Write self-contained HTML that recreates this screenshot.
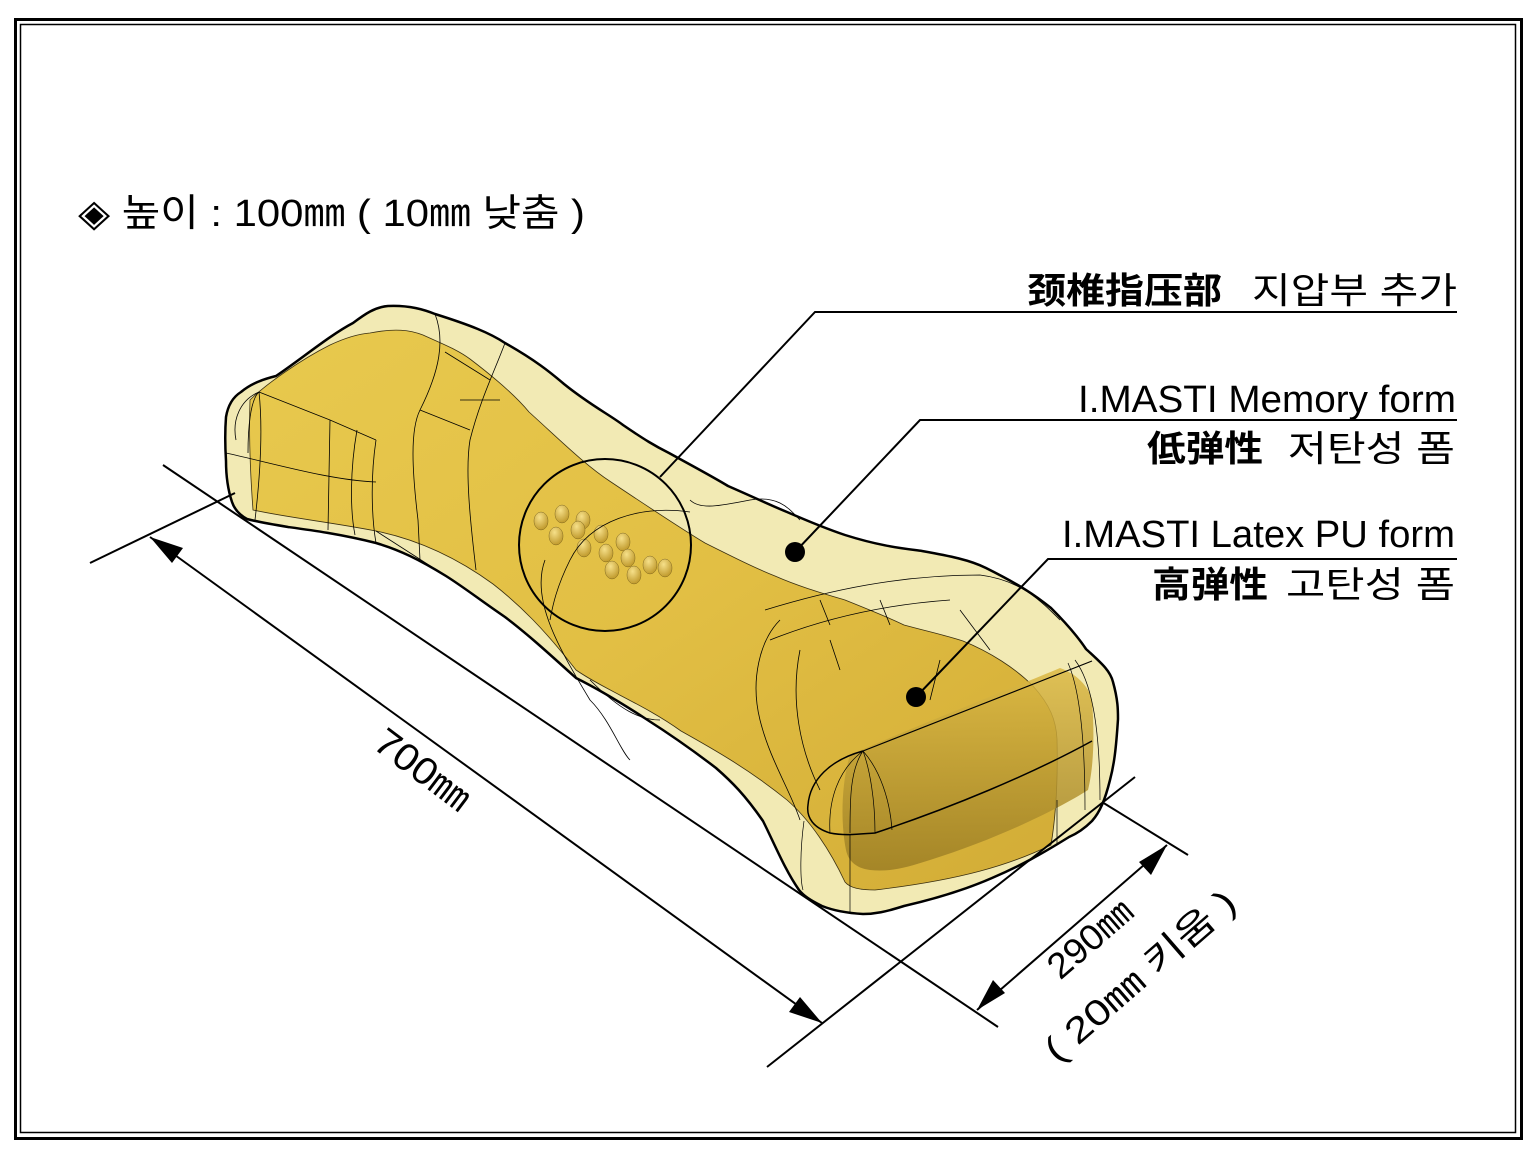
<!DOCTYPE html>
<html><head><meta charset="utf-8"><style>
html,body{margin:0;padding:0;background:#fff}
svg{display:block}
text{font-family:"Liberation Sans","Noto Sans CJK KR",sans-serif;fill:#000}
</style></head><body>
<svg width="1538" height="1155" viewBox="0 0 1538 1155" xmlns="http://www.w3.org/2000/svg">
<defs>
<linearGradient id="gold" x1="0" y1="0" x2="1" y2="1">
<stop offset="0" stop-color="#e8c94e"/><stop offset="0.5" stop-color="#e2bf44"/><stop offset="1" stop-color="#d2ac36"/>
</linearGradient>
<linearGradient id="face" x1="0" y1="0" x2="0" y2="1">
<stop offset="0" stop-color="#dcb944"/><stop offset="1" stop-color="#9c7e24"/>
</linearGradient>
<radialGradient id="nub" cx="0.4" cy="0.3" r="0.7">
<stop offset="0" stop-color="#f6e08a"/><stop offset="1" stop-color="#c09a2c"/>
</radialGradient>
</defs>
<rect x="15.5" y="19.5" width="1506" height="1119" fill="none" stroke="#000" stroke-width="3"/>
<rect x="20.5" y="24.5" width="1495" height="1108" fill="none" stroke="#000" stroke-width="1.5"/>

<text x="78" y="226" font-size="38" textLength="507" lengthAdjust="spacingAndGlyphs">◈ 높이 : 100㎜ ( 10㎜ 낮춤 )</text>

<path d="M388,306 C410,305 425,310 435,314 C470,325 490,333 505,343 C535,360 550,372 564,384 C590,405 610,415 623,425 C645,440 655,446 669,453 C700,470 715,478 728,486 C760,500 770,505 787,512 C810,522 830,530 845,535 C880,546 900,548 922,551 C950,556 970,560 986,568 C1020,585 1035,595 1051,608 C1068,625 1078,637 1086,649 C1100,662 1110,670 1113,682 C1118,700 1118,710 1118,719 C1116,750 1114,765 1110,780 C1105,800 1100,812 1092,821 C1083,830 1076,834 1069,837 C1040,855 1020,866 992,878 C960,892 930,900 904,906 C885,912 875,914 863,914 C845,913 832,910 822,906 C810,900 804,896 799,890 C785,870 775,845 763,821 C745,795 732,782 716,768 C690,748 668,733 646,719 C620,702 600,690 576,678 C545,650 525,632 505,617 C480,600 465,588 446,576 C420,560 400,550 376,543 C340,534 310,530 288,527 C270,524 258,522 247,519 C238,514 234,508 232,502 C228,490 226,475 226,461 C225,445 225,430 226,417 C228,405 233,397 241,392 C252,383 264,379 276,376 C300,360 330,335 353,323 C365,314 375,307 388,306 Z" fill="#f2eab4" stroke="#000" stroke-width="2.5"/>

<path d="M370,333 C395,328 410,330 423,335 C445,345 458,350 470,359 C495,378 515,395 529,412 C560,440 585,465 611,482 C650,508 680,528 705,543 C735,558 755,568 775,576 C800,587 825,594 845,600 C870,610 890,618 904,625 C930,632 948,636 963,641 C990,652 1015,668 1033,686 C1050,705 1056,720 1057,739 C1058,780 1056,815 1051,845 C1010,865 960,880 875,890 C860,890 850,888 845,882 C830,850 810,820 787,800 C750,770 715,750 681,731 C645,705 605,690 576,670 C545,630 520,605 493,584 C460,560 420,540 376,531 C330,522 290,518 253,510 C250,470 249,430 250,400 C265,385 300,360 330,345 C345,338 357,334 370,333 Z" fill="url(#gold)" stroke="#3a2f10" stroke-width="0.8"/>

<path d="M850,755 C930,720 1020,685 1060,668 C1080,675 1090,690 1092,700 C1095,740 1093,770 1088,790 C1060,808 1000,838 930,860 C905,868 890,872 870,870 C855,868 848,860 846,850 C840,820 842,780 850,755 Z" fill="url(#face)" opacity="0.85"/>
<path d="M863,751 C830,760 810,780 808,805 C806,818 814,828 830,833 C845,836 860,834 875,833 C950,808 1030,775 1092,741" fill="none" stroke="#000" stroke-width="1.5"/>
<path d="M863,751 L1092,661" fill="none" stroke="#000" stroke-width="1.2"/>
<path d="M863,751 C850,770 850,800 850,833 M863,751 C870,770 875,800 875,833 M863,751 C838,770 828,800 830,833 M863,751 C880,770 890,800 892,830" fill="none" stroke="#000" stroke-width="0.7"/>
<path d="M1075,660 C1090,680 1100,720 1100,800 M1068,663 C1080,690 1085,740 1085,810 M804,821 C800,850 800,880 803,890 M850,834 L850,912 M1057,800 L1057,845" fill="none" stroke="#000" stroke-width="0.7"/>

<path d="M259,392 C250,400 248,430 248,453 M259,392 L330,420 L376,440 M226,453 C280,465 330,480 376,482 M259,392 C240,400 232,420 236,440 M259,392 C262,420 262,460 255,520 M330,420 L328,530 M357,430 C350,470 350,510 355,535 M376,440 C370,480 372,520 376,543" fill="none" stroke="#000" stroke-width="0.8"/>
<path d="M435,314 C445,340 440,370 420,410 C410,430 412,470 418,520 L420,560 M445,352 L490,380 M420,410 L470,430 M460,400 L500,400 M505,343 C495,370 480,400 470,440 C465,470 470,520 476,570 M376,531 L446,576" fill="none" stroke="#000" stroke-width="0.8"/>
<path d="M690,500 C700,510 720,506 750,500 C780,495 790,510 800,520 M545,560 C530,600 560,650 590,700 C610,720 620,750 630,760 M590,680 C620,710 640,720 660,720 M765,610 C830,590 900,575 980,575 C1020,580 1040,600 1060,620 M770,640 C820,620 880,605 950,600 M780,620 C760,640 750,680 760,720 C770,760 790,790 800,820 M800,650 C790,700 800,750 820,790 M820,600 L830,625 M830,640 L840,670 M880,600 L890,625 M960,610 L990,650 M940,660 L930,700" fill="none" stroke="#000" stroke-width="0.8"/>

<g stroke="#6b5518" stroke-width="0.4" fill="url(#nub)">
<ellipse cx="541" cy="521" rx="7" ry="9"/><ellipse cx="562" cy="514" rx="7" ry="9"/><ellipse cx="583" cy="520" rx="7" ry="9"/>
<ellipse cx="556" cy="536" rx="7" ry="9"/><ellipse cx="578" cy="530" rx="7" ry="9"/><ellipse cx="601" cy="534" rx="7" ry="9"/><ellipse cx="623" cy="542" rx="7" ry="9"/>
<ellipse cx="584" cy="548" rx="7" ry="9"/><ellipse cx="606" cy="553" rx="7" ry="9"/><ellipse cx="628" cy="558" rx="7" ry="9"/><ellipse cx="650" cy="565" rx="7" ry="9"/>
<ellipse cx="612" cy="570" rx="7" ry="9"/><ellipse cx="634" cy="575" rx="7" ry="9"/><ellipse cx="665" cy="568" rx="7" ry="9"/>
</g>
<circle cx="605" cy="545" r="86" fill="none" stroke="#000" stroke-width="2"/>
<path d="M690,512 C640,505 590,520 570,560 C555,590 552,610 550,620" fill="none" stroke="#000" stroke-width="0.8"/>

<g stroke="#000" fill="none">
<path d="M1457,312 L815,312 L660,477" stroke-width="2"/>
<path d="M1457,420 L920,420 L795,552" stroke-width="2"/>
<path d="M1457,559 L1048,559 L916,697" stroke-width="2"/>
</g>
<circle cx="795" cy="552" r="10" fill="#000"/>
<circle cx="916" cy="697" r="10" fill="#000"/>

<text x="1027" y="303" font-size="36" font-weight="bold" textLength="195" lengthAdjust="spacingAndGlyphs">颈椎指压部</text>
<text x="1252" y="303" font-size="36" textLength="205" lengthAdjust="spacingAndGlyphs">지압부 추가</text>
<text x="1078" y="412" font-size="38" textLength="378" lengthAdjust="spacingAndGlyphs">I.MASTI Memory form</text>
<text x="1147" y="461" font-size="36" font-weight="bold" textLength="116" lengthAdjust="spacingAndGlyphs">低弹性</text>
<text x="1288" y="461" font-size="36" textLength="167" lengthAdjust="spacingAndGlyphs">저탄성 폼</text>
<text x="1062" y="547" font-size="38" textLength="393" lengthAdjust="spacingAndGlyphs">I.MASTI Latex PU form</text>
<text x="1152" y="597" font-size="36" font-weight="bold" textLength="116" lengthAdjust="spacingAndGlyphs">高弹性</text>
<text x="1286" y="597" font-size="36" textLength="169" lengthAdjust="spacingAndGlyphs">고탄성 폼</text>

<g stroke="#000" stroke-width="2" fill="none">
<path d="M163,465 L998,1027"/>
<path d="M90,563 L235,493"/>
<path d="M767,1067 L1135,777"/>
<path d="M1102,802 L1188,855"/>
<path d="M150,537 L822,1023"/>
<path d="M977,1010 L1167,845"/>
</g>
<g fill="#000">
<polygon points="150,537 183,548 172,563"/>
<polygon points="822,1023 789,1012 800,997"/>
<polygon points="977,1010 993,980 1005,993"/>
<polygon points="1167,845 1151,875 1139,862"/>
</g>
<text transform="translate(415,780) rotate(37)" font-size="38" text-anchor="middle" textLength="110" lengthAdjust="spacingAndGlyphs">700㎜</text>
<text transform="translate(1098,948) rotate(-41)" font-size="36" text-anchor="middle" textLength="100" lengthAdjust="spacingAndGlyphs">290㎜</text>
<text transform="translate(1148,985) rotate(-41)" font-size="36" text-anchor="middle" textLength="240" lengthAdjust="spacingAndGlyphs">( 20㎜ 키움 )</text>
</svg>
</body></html>
